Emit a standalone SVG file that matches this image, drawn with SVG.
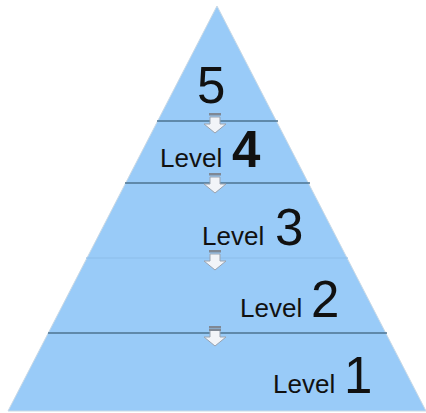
<svg xmlns="http://www.w3.org/2000/svg" width="426" height="413" viewBox="0 0 426 413">
<style>
.t{font-family:"Liberation Sans",Arial,sans-serif;fill:#111}
.lv{font-size:26px}
.num{font-size:51px}
.sep{stroke:#4d7391;stroke-width:1.5}
.arr{fill:#f2f4f8;stroke:#9aa3b0;stroke-width:1}
.dash{fill:#7f8894}
</style>
<defs>
<g id="arrow">
<rect class="dash" x="-6" y="0" width="12" height="2.5"/>
<path class="arr" d="M-5,4 L5,4 L5,11 L11,11 L0,20 L-11,11 L-5,11 Z"/>
</g>
</defs>
<g id="pyramid">
<polygon points="217,6 8,411 426,411" fill="#99cbf8" stroke="#c9d9e6" stroke-width="1"/>
</g>
<g id="connectors">
<line class="sep" x1="157" y1="121" x2="278" y2="121"/>
<line class="sep" x1="125" y1="183" x2="310" y2="183"/>
<line x1="86" y1="258" x2="348" y2="258" stroke="#8cbde9" stroke-width="1"/>
<line class="sep" x1="48" y1="333" x2="387" y2="333"/>
<use href="#arrow" x="215" y="113"/>
<use href="#arrow" x="215" y="173"/>
<use href="#arrow" x="215" y="250"/>
<use href="#arrow" x="215" y="326"/>
<rect class="dash" x="209" y="329" width="12" height="2"/>
</g>
<g id="level5"><text class="t num" x="197" y="103">5</text></g>
<g id="level4"><text class="t lv" x="160" y="167">Level</text><text class="t num" x="232" y="167" font-weight="bold">4</text></g>
<g id="level3"><text class="t lv" x="202" y="245">Level</text><text class="t num" x="275" y="245">3</text></g>
<g id="level2"><text class="t lv" x="240" y="317">Level</text><text class="t num" x="311" y="317">2</text></g>
<g id="level1"><text class="t lv" x="273" y="393">Level</text><text class="t num" x="344" y="393">1</text></g>
</svg>
